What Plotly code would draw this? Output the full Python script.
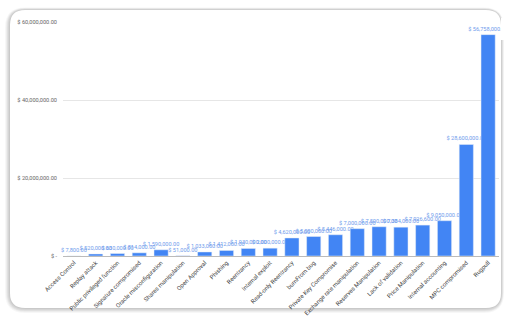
import plotly.graph_objects as go

categories = ["Access Control", "Replay attack", "Public privileged function", "Signature compromised",
              "Oracle misconfiguration", "Shares manipulation", "Open Approval", "Phishing", "Reentrancy",
              "Internal exploit", "Read-only Reentrancy", "burnFrom bug", "Private Key Compromise",
              "Exchange rate manipulation", "Reserves Manipulation", "Lack of validation",
              "Price Manipulation", "Internal accounting", "MPC compromised", "Rugpull"]
values = [7800, 520000, 630000, 814000, 1590000, 51000, 1033000, 1412000, 1930000, 2000000,
          4620000, 5000000, 5446000, 7000000, 7500000, 7384000, 7926600, 9050000, 28600000, 56758000]
y_ticks = [0, 20000000, 40000000, 60000000]
y_tick_labels = ["$ -", "$ 20,000,000.00", "$ 40,000,000.00", "$ 60,000,000.00"]

W, H = 512, 320
L, R, T, B = 63, 13, 22, 64
pw, ph = W - L - R, H - T - B


def px(x):
    return (x - L) / pw


def py(y):
    return (H - B - y) / ph


def rrect(x0, y0, x1, y1, r):
    rx, ry = r / pw, r / ph
    X0, X1 = px(x0), px(x1)
    Y0, Y1 = py(y0), py(y1)  # Y0 top (larger), Y1 bottom
    return (f"M {X0+rx},{Y0} L {X1-rx},{Y0} Q {X1},{Y0} {X1},{Y0-ry} "
            f"L {X1},{Y1+ry} Q {X1},{Y1} {X1-rx},{Y1} L {X0+rx},{Y1} "
            f"Q {X0},{Y1} {X0},{Y1+ry} L {X0},{Y0-ry} Q {X0},{Y0} {X0+rx},{Y0} Z")


shapes = []
# soft shadow
for i, op in enumerate([0.05, 0.05, 0.05, 0.04, 0.03]):
    g = i + 1
    shapes.append(dict(type="path", xref="paper", yref="paper", layer="below",
                       path=rrect(10 - g, 10 - g * 0.5, 501 + g * 0.6, 308 + g, 15 + g),
                       fillcolor=f"rgba(0,0,0,{op})", line=dict(width=0)))
shapes.append(dict(type="path", xref="paper", yref="paper", layer="below",
                   path=rrect(10, 10, 501, 308, 15),
                   fillcolor="white", line=dict(width=0)))
# mask text that spills past the card's right edge
shapes.append(dict(type="rect", xref="paper", yref="paper", layer="above",
                   x0=px(501), x1=px(512), y0=py(40), y1=py(18),
                   fillcolor="white", line=dict(width=0)))

fig = go.Figure(go.Bar(
    x=categories, y=values,
    marker=dict(color="#4285F4"),
    text=[f"$ {v:,.2f}" for v in values],
    textposition="outside",
    textangle=0,
    constraintext="none",
    cliponaxis=False,
    textfont=dict(family="Roboto", size=5.6, color="#6f9cec"),
))

fig.update_layout(
    width=W, height=H,
    margin=dict(l=L, r=R, t=T, b=B),
    paper_bgcolor="white",
    plot_bgcolor="rgba(0,0,0,0)",
    shapes=shapes,
    bargap=0.35,
    showlegend=False,
    font=dict(family="Roboto", color="#555"),
    xaxis=dict(tickangle=-45, tickfont=dict(size=6, color="#444"), showgrid=False,
               showline=True, linecolor="#bbbbbb", linewidth=1, ticks="", automargin=False),
    yaxis=dict(range=[0, 60000000], tickvals=y_ticks, ticktext=y_tick_labels,
               tickfont=dict(size=5.6, color="#666"), gridcolor="#e6e6e6", gridwidth=1,
               zeroline=False, showline=False, ticks="", ticklabelstandoff=5, automargin=False),
)

fig.write_html("out.html")
